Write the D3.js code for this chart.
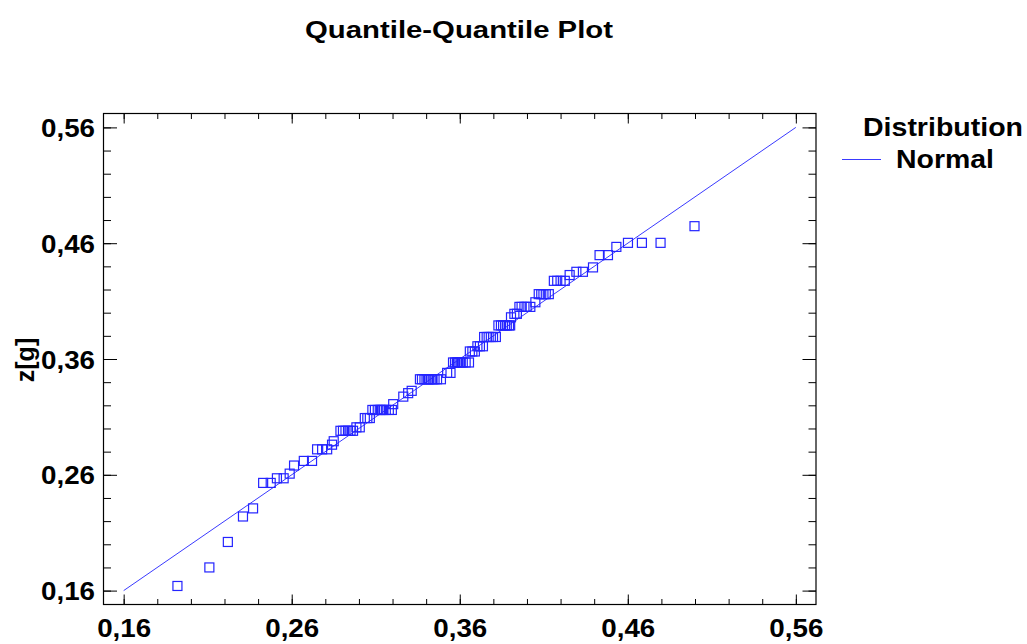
<!DOCTYPE html>
<html>
<head>
<meta charset="utf-8">
<script src="https://cdn.jsdelivr.net/npm/d3@7"></script>
<style>
  html, body { margin: 0; padding: 0; background: #fff; }
  svg { display: block; }
  text { font-family: "Liberation Sans", Arial, sans-serif; font-weight: bold; fill: #000; }
</style>
</head>
<body>
<svg id="chart" width="1027" height="644"></svg>
<script>
// Text
const chartTitle = "Quantile-Quantile Plot";
const yAxisTitle = "z[g]";
const legendTitle = "Distribution";
const legendItem = "Normal";

// Axis ticks (both axes share the same scale)
const majorTicks = [0.16, 0.26, 0.36, 0.46, 0.56];
const tickLabels = ["0,16", "0,26", "0,36", "0,46", "0,56"];
const minorTicks = [0.16, 0.18, 0.20, 0.22, 0.24, 0.26, 0.28, 0.30, 0.32, 0.34, 0.36,
                    0.38, 0.40, 0.42, 0.44, 0.46, 0.48, 0.50, 0.52, 0.54, 0.56];

// Fitted normal reference line endpoints (y = x)
const fitLine = [0.16, 0.56];

// Theoretical normal quantiles (x) and ordered sample values of z[g] (y)
const theoretical = [
  0.192, 0.211, 0.222, 0.231, 0.237,
  0.243, 0.2475, 0.2512, 0.2552, 0.2588, 0.2614, 0.2672, 0.2721,
  0.2751, 0.2781, 0.2811, 0.2840, 0.2850,
  0.2890, 0.2905, 0.2920, 0.2935, 0.2950, 0.2965,
  0.2985, 0.3005,
  0.3035, 0.3050, 0.3065,
  0.3080, 0.3095, 0.3112, 0.3124, 0.3131, 0.3138, 0.3146, 0.3160, 0.3178, 0.3196,
  0.3204,
  0.3264, 0.3293, 0.3314,
  0.3363, 0.3375, 0.3390, 0.3402, 0.3410, 0.3418, 0.3427, 0.3438, 0.3450, 0.3465, 0.3488,
  0.3525, 0.3545,
  0.3560, 0.3572, 0.3583, 0.3590, 0.3598, 0.3606, 0.3618, 0.3635, 0.3655,
  0.3660, 0.3675, 0.3690,
  0.3705, 0.3720, 0.3738,
  0.3745, 0.3760, 0.3772, 0.3785, 0.3798, 0.3815,
  0.3830, 0.3845, 0.3858, 0.3870, 0.3880, 0.3893, 0.3900,
  0.3905, 0.3925, 0.3940,
  0.3955, 0.3968, 0.3985, 0.3998, 0.4020,
  0.4050,
  0.4070, 0.4085, 0.4098, 0.4112, 0.4130,
  0.4160, 0.4180, 0.4200, 0.4225,
  0.4254,
  0.4294, 0.4333,
  0.4393,
  0.4432, 0.4482,
  0.4532,
  0.4601, 0.4684, 0.4795,
  0.4997
];
const sample = [
  0.164, 0.180, 0.202, 0.224, 0.231,
  0.253, 0.253, 0.257, 0.257, 0.261, 0.268, 0.272, 0.272,
  0.282, 0.282, 0.282, 0.286, 0.289,
  0.298, 0.298, 0.298, 0.298, 0.298, 0.298,
  0.301, 0.301,
  0.309, 0.309, 0.309,
  0.316, 0.316, 0.316, 0.316, 0.316, 0.316, 0.316, 0.316, 0.316, 0.316,
  0.321,
  0.3275, 0.3305, 0.3325,
  0.3425, 0.3425, 0.3425, 0.3425, 0.3425, 0.3425, 0.3425, 0.3425, 0.3425, 0.3425, 0.3425,
  0.348, 0.348,
  0.357, 0.357, 0.357, 0.357, 0.357, 0.357, 0.357, 0.357, 0.357,
  0.3665, 0.3665, 0.3665,
  0.371, 0.371, 0.371,
  0.379, 0.379, 0.379, 0.379, 0.379, 0.379,
  0.389, 0.389, 0.389, 0.389, 0.389, 0.389, 0.389,
  0.396, 0.399, 0.399,
  0.405, 0.405, 0.405, 0.405, 0.405,
  0.409,
  0.416, 0.416, 0.416, 0.416, 0.416,
  0.4275, 0.4275, 0.4275, 0.4275,
  0.4325,
  0.4353, 0.4353,
  0.4391,
  0.4497, 0.4497,
  0.4568,
  0.4603, 0.4603, 0.4603,
  0.4747
];

const points = theoretical.map((t, i) => ({ x: t, y: sample[i] }));

const svg = d3.select("#chart");
const frame = { left: 103.5, top: 113.5, right: 816, bottom: 604.5 };
const markColor = "#2424ff";
const lineColor = "#3a3aff";

const x = d3.scaleLinear().domain([0.148, 0.572]).range([frame.left, frame.right]);
const y = d3.scaleLinear().domain([0.148, 0.572]).range([frame.bottom, frame.top]);

// Title
svg.append("text")
  .attr("x", 459).attr("y", 38)
  .attr("text-anchor", "middle")
  .style("font-size", "24px")
  .attr("textLength", 308).attr("lengthAdjust", "spacingAndGlyphs")
  .text(chartTitle);

// Axes: inward ticks on all four sides, minor ticks every 0.02
function styleAxis(g) {
  g.select(".domain").remove();
  g.selectAll(".tick line").attr("stroke", "#000").attr("stroke-width", 1);
}
const lab = (d, i) => tickLabels[i];

svg.append("g").attr("transform", `translate(0,${frame.bottom})`)
  .call(d3.axisBottom(x).tickValues(minorTicks).tickSize(-5.5).tickFormat(""))
  .call(styleAxis);
const gx = svg.append("g").attr("transform", `translate(0,${frame.bottom})`)
  .call(d3.axisBottom(x).tickValues(majorTicks).tickSize(-10).tickFormat(lab))
  .call(styleAxis);
gx.selectAll(".tick text")
  .attr("y", 32).attr("dy", null)
  .attr("fill", "#000")
  .style("font-size", "26px")
  .attr("textLength", 54).attr("lengthAdjust", "spacingAndGlyphs");

svg.append("g").attr("transform", `translate(0,${frame.top})`)
  .call(d3.axisTop(x).tickValues(minorTicks).tickSize(-5.5).tickFormat(""))
  .call(styleAxis);
svg.append("g").attr("transform", `translate(0,${frame.top})`)
  .call(d3.axisTop(x).tickValues(majorTicks).tickSize(-10).tickFormat(""))
  .call(styleAxis);

svg.append("g").attr("transform", `translate(${frame.left},0)`)
  .call(d3.axisLeft(y).tickValues(minorTicks).tickSize(-7.5).tickFormat(""))
  .call(styleAxis);
const gy = svg.append("g").attr("transform", `translate(${frame.left},0)`)
  .call(d3.axisLeft(y).tickValues(majorTicks).tickSize(-13.5).tickFormat(lab))
  .call(styleAxis);
gy.selectAll(".tick text")
  .attr("x", -8.5).attr("dy", "0.35em")
  .attr("fill", "#000")
  .style("font-size", "26px")
  .attr("textLength", 54).attr("lengthAdjust", "spacingAndGlyphs");

svg.append("g").attr("transform", `translate(${frame.right},0)`)
  .call(d3.axisRight(y).tickValues(minorTicks).tickSize(-7.5).tickFormat(""))
  .call(styleAxis);
svg.append("g").attr("transform", `translate(${frame.right},0)`)
  .call(d3.axisRight(y).tickValues(majorTicks).tickSize(-13.5).tickFormat(""))
  .call(styleAxis);

// Plot frame
svg.append("rect")
  .attr("x", frame.left).attr("y", frame.top)
  .attr("width", frame.right - frame.left).attr("height", frame.bottom - frame.top)
  .attr("fill", "none").attr("stroke", "#000").attr("stroke-width", 1.2);

// Y axis title
svg.append("text")
  .attr("transform", "translate(34,360) rotate(-90)")
  .attr("text-anchor", "middle")
  .style("font-size", "25px")
  .text(yAxisTitle);

// Fitted normal line
svg.append("path")
  .datum(fitLine)
  .attr("d", d3.line().x(d => x(d)).y(d => y(d)))
  .attr("fill", "none").attr("stroke", lineColor).attr("stroke-width", 1);

// Quantile points as open squares
const s = 9;
svg.append("g").selectAll("rect")
  .data(points)
  .join("rect")
  .attr("x", d => x(d.x) - s / 2)
  .attr("y", d => y(d.y) - s / 2)
  .attr("width", s).attr("height", s)
  .attr("fill", "none")
  .attr("stroke", markColor)
  .attr("stroke-width", 1.2);

// Legend
svg.append("text")
  .attr("x", 863).attr("y", 136)
  .style("font-size", "25px")
  .attr("textLength", 160).attr("lengthAdjust", "spacingAndGlyphs")
  .text(legendTitle);
svg.append("line")
  .attr("x1", 842).attr("x2", 881).attr("y1", 159.5).attr("y2", 159.5)
  .attr("stroke", lineColor).attr("stroke-width", 1);
svg.append("text")
  .attr("x", 896).attr("y", 168)
  .style("font-size", "25px")
  .attr("textLength", 98).attr("lengthAdjust", "spacingAndGlyphs")
  .text(legendItem);
</script>
</body>
</html>
